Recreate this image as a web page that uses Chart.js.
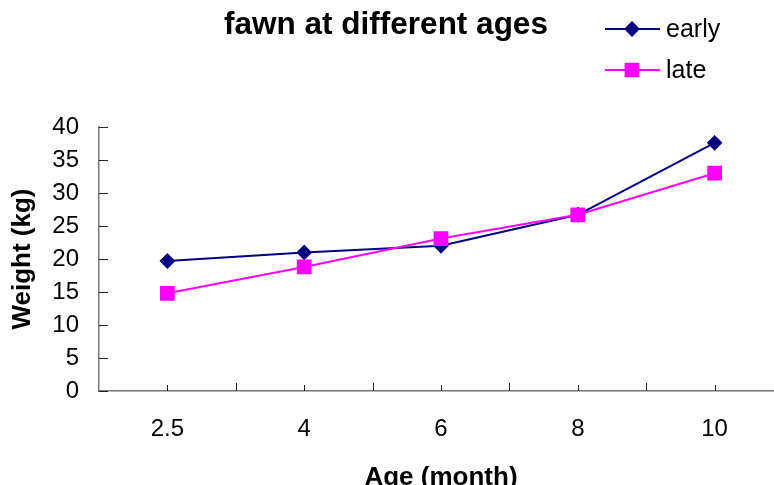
<!DOCTYPE html>
<html>
<head>
<meta charset="utf-8">
<script src="https://cdn.jsdelivr.net/npm/chart.js@4.4.1/dist/chart.umd.min.js"></script>
<style>
  html, body { margin: 0; padding: 0; background: #fff; overflow: hidden; }
  /* o eixo x continua além da borda direita da imagem */
  #wrap { width: 784px; height: 485px; }
</style>
</head>
<body>
<div id="wrap"><canvas id="chart" width="784" height="485"></canvas></div>
<script>
// ===============================
// Dados
// ===============================
const ages = ["2.5", "4", "6", "8", "10"];
const early = [19.7, 21.0, 22.0, 26.7, 37.6];
const late = [14.8, 18.8, 23.1, 26.7, 33.0];
const yTicks = [0, 5, 10, 15, 20, 25, 30, 35, 40];

const titleText = "fawn at different ages";
const FONT = "'Liberation Sans', Arial, sans-serif";

// ===============================
// Plugins
// ===============================
// tick marks desenhados para dentro (como no Excel)
const innerTicks = {
  id: "innerTicks",
  afterDraw(chart) {
    const { ctx, chartArea, scales } = chart;
    const x = scales.x, y = scales.y;
    ctx.save();
    ctx.strokeStyle = "#222";
    ctx.lineWidth = 1;
    ctx.beginPath();
    y.ticks.forEach(t => {
      const py = Math.round(y.getPixelForValue(t.value)) + 0.5;
      ctx.moveTo(chartArea.left, py);
      ctx.lineTo(chartArea.left + 9, py);
    });
    ages.forEach((a, i) => {
      const px = Math.round(x.getPixelForValue(i)) + 0.5;
      ctx.moveTo(px, chartArea.bottom);
      ctx.lineTo(px, chartArea.bottom - 6);
      const bx = Math.round(x.getPixelForValue(i + 0.5)) + 0.5;
      ctx.moveTo(bx, chartArea.bottom);
      ctx.lineTo(bx, chartArea.bottom - 8);
    });
    ctx.stroke();
    ctx.restore();
  }
};

// título + legenda no topo
const header = {
  id: "header",
  afterDraw(chart) {
    const { ctx } = chart;
    ctx.save();
    ctx.fillStyle = "#000";
    ctx.font = "bold 31.5px " + FONT;
    ctx.textAlign = "center";
    ctx.textBaseline = "alphabetic";
    ctx.fillText(titleText, 386, 34);

    const rows = [29, 70];
    chart.data.datasets.forEach((ds, i) => {
      const ly = rows[i];
      ctx.strokeStyle = ds.borderColor;
      ctx.lineWidth = ds.borderWidth;
      ctx.beginPath();
      ctx.moveTo(605, ly);
      ctx.lineTo(660, ly);
      ctx.stroke();
      ctx.fillStyle = ds.pointBackgroundColor;
      ctx.strokeStyle = ds.borderColor;
      Chart.helpers.drawPoint(ctx, {
        pointStyle: ds.pointStyle,
        radius: ds.pointRadius,
        borderWidth: 1,
        rotation: 0
      }, 632, ly);
      ctx.fillStyle = "#000";
      ctx.font = "25px " + FONT;
      ctx.textAlign = "left";
      ctx.textBaseline = "middle";
      ctx.fillText(ds.label, 666, ly + 1);
    });
    ctx.restore();
  }
};

// ===============================
// Gráfico
// ===============================
const ctx = document.getElementById("chart").getContext("2d");

new Chart(ctx, {
  type: "line",
  data: {
    labels: ages,
    datasets: [
      {
        label: "early",
        data: early,
        borderColor: "#000080",
        backgroundColor: "#000080",
        pointBackgroundColor: "#000080",
        borderWidth: 2,
        pointStyle: "rectRot",
        pointRadius: 6.5,
        pointHoverRadius: 6.5,
        tension: 0,
        order: 1
      },
      {
        label: "late",
        data: late,
        borderColor: "#FF00FF",
        backgroundColor: "#FF00FF",
        pointBackgroundColor: "#FF00FF",
        borderWidth: 2,
        pointStyle: "rect",
        pointRadius: 9,
        pointHoverRadius: 9,
        tension: 0,
        order: 0
      }
    ]
  },
  options: {
    responsive: false,
    animation: false,
    devicePixelRatio: 1,
    layout: {
      autoPadding: false,
      padding: { top: 127, right: 1, left: 0, bottom: 0 }
    },
    plugins: {
      legend: { display: false },
      title: { display: false },
      tooltip: { enabled: false }
    },
    scales: {
      x: {
        type: "category",
        offset: true,
        grid: { display: false, drawTicks: false },
        border: { display: true, color: "#777", width: 1.5 },
        ticks: {
          color: "#000",
          font: { family: FONT, size: 24 },
          padding: 24,
          maxRotation: 0
        },
        title: {
          display: true,
          text: "Age (month)",
          color: "#000",
          font: { family: FONT, size: 26, weight: "bold", lineHeight: 0.55 },
          padding: { top: 0, bottom: 0 }
        },
        afterFit: s => { s.height = 94; }
      },
      y: {
        min: 0,
        max: 40,
        grid: { display: false, drawTicks: false },
        border: { display: true, color: "#777", width: 1.5 },
        ticks: {
          stepSize: 5,
          color: "#000",
          font: { family: FONT, size: 24 },
          padding: 20
        },
        afterBuildTicks: s => { s.ticks = yTicks.map(v => ({ value: v })); },
        title: {
          display: true,
          text: "Weight (kg)",
          color: "#000",
          font: { family: FONT, size: 26, weight: "bold", lineHeight: 1.2 },
          padding: { top: 7, bottom: 0 }
        },
        afterFit: s => { s.width = 99; }
      }
    }
  },
  plugins: [innerTicks, header]
});
</script>
</body>
</html>
